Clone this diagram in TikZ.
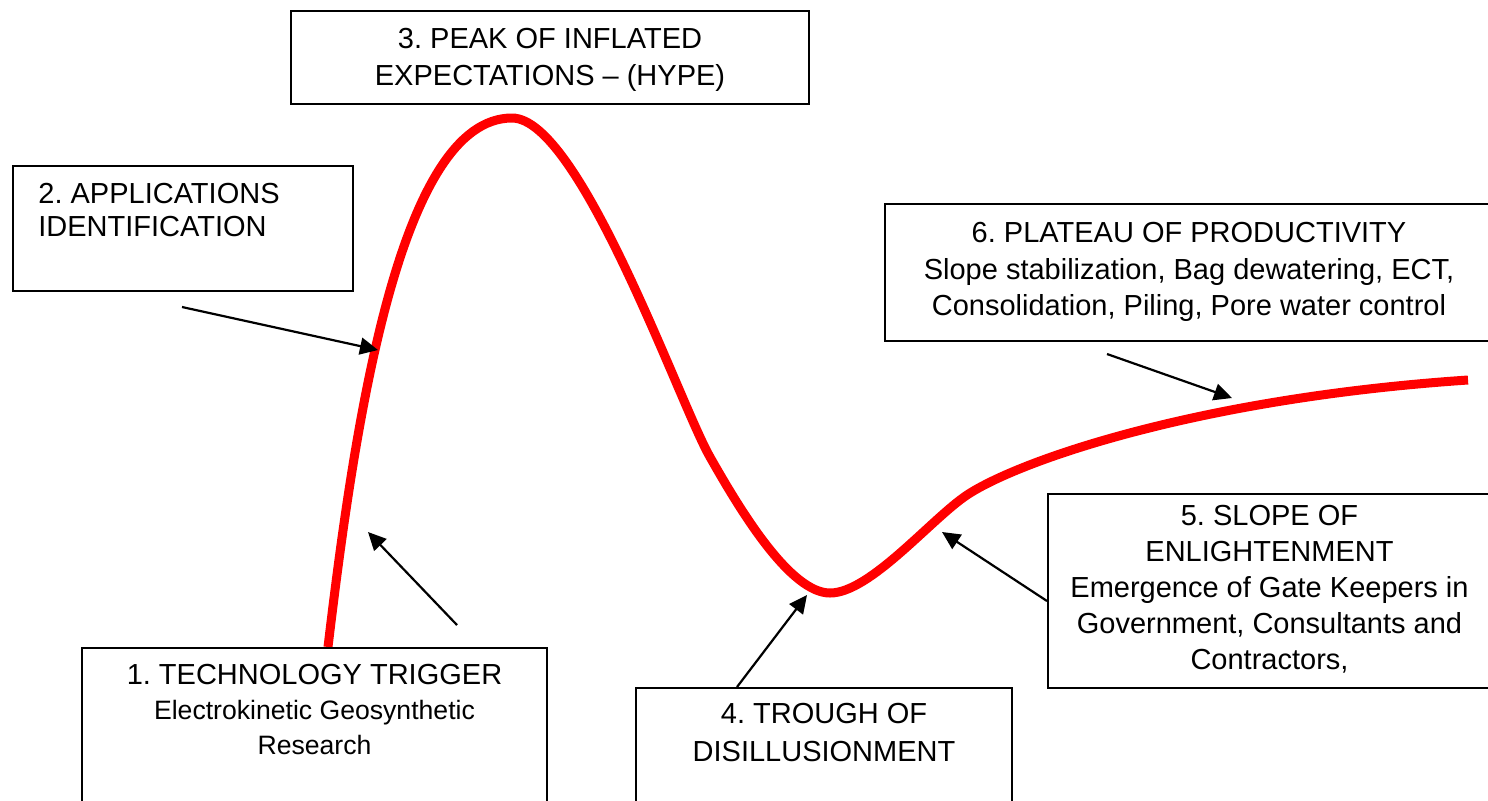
\documentclass[tikz,border=0pt]{standalone}
\usepackage{fontspec}
\setmainfont{Liberation Sans}
\usepackage{tikz}
\usetikzlibrary{arrows.meta,calc}
\frenchspacing

\begin{document}
\begin{tikzpicture}[x=0.5pt,y=0.5pt,yscale=-1,
    stagebox/.style={draw, line width=1pt, anchor=north west, inner sep=0pt},
    stagetext/.style={anchor=north, inner sep=0pt, align=center, font=\fontsize{14.5}{18.3}\selectfont},
    hypecurve/.style={draw=red, line width=4.5pt},
    pointer/.style={line width=1.1pt, -{Triangle[length=9pt,width=8.5pt]}}]
    \useasboundingbox (0,0) rectangle (1488,800); %set diagram to 1488 x 800

    %Curve Lines [id:hype curve]
    \draw [hypecurve] (328,647) .. controls (355,420) and (400,118) .. (512,118)
        .. controls (580,118) and (680,405) .. (710,457)
        .. controls (740,510) and (790,593) .. (830,593)
        .. controls (870,593) and (931,519) .. (967,495)
        .. controls (1020,460) and (1200,398) .. (1468,380) ;

    %Shape: Rectangle [id:stage boxes]
    \node [stagebox, minimum width=232.5pt, minimum height=86.5pt] (trigger) at (81,647) {};
    \node [stagebox, minimum width=170pt, minimum height=62.5pt] (apps) at (12,165) {};
    \node [stagebox, minimum width=259pt, minimum height=46.5pt] (hype) at (290,10) {};
    \node [stagebox, minimum width=188pt, minimum height=66.5pt] (trough) at (635,687) {};
    \node [stagebox, minimum width=221.5pt, minimum height=97pt] (slope) at (1047,493) {};
    \node [stagebox, minimum width=304pt, minimum height=68.5pt] (plateau) at (884,203) {};

    % Text Node
    \node [stagetext, font=\fontsize{14.5}{17.5}\selectfont] (triggertext) at ($(trigger.north)+(0,17)$)
        {1. TECHNOLOGY TRIGGER\\ \fontsize{13.3}{17.5}\selectfont Electrokinetic Geosynthetic\\ \fontsize{13.3}{17.5}\selectfont Research};
    % Text Node
    \node [stagetext, anchor=north west, align=left, font=\fontsize{14.5}{16.5}\selectfont] (appstext) at ($(apps.north west)+(26,18)$)
        {2. APPLICATIONS\\IDENTIFICATION};
    % Text Node
    \node [stagetext, font=\fontsize{14.5}{18.5}\selectfont] (hypetext) at ($(hype.north)+(0,18)$)
        {3. PEAK OF INFLATED\\EXPECTATIONS – (HYPE)};
    % Text Node
    \node [stagetext, font=\fontsize{14.5}{19}\selectfont] (troughtext) at ($(trough.north)+(0,16)$)
        {4. TROUGH OF\\DISILLUSIONMENT};
    % Text Node
    \node [stagetext, font=\fontsize{14.5}{18}\selectfont] (slopetext) at ($(slope.north)+(0,12)$)
        {5. SLOPE OF\\ENLIGHTENMENT\\Emergence of Gate Keepers in\\Government, Consultants and\\Contractors,};
    % Text Node
    \node [stagetext] (plateautext) at ($(plateau.north)+(0,19)$)
        {6. PLATEAU OF PRODUCTIVITY\\Slope stabilization, Bag dewatering, ECT,\\Consolidation, Piling, Pore water control};

    %Straight Lines [id:pointers]
    \coordinate (triggertip) at (368,532);
    \coordinate (appstip) at (378,350);
    \coordinate (troughtip) at (807,595);
    \coordinate (slopetip) at (942,532);
    \coordinate (plateautip) at (1232,398);
    \draw [pointer] ($(trigger.north west)+(376,-22)$) -- (triggertip);
    \draw [pointer] ($(apps.south west)+(170,15)$) -- (appstip);
    \draw [pointer] ($(trough.north west)+(102,0)$) -- (troughtip);
    \draw [pointer] ($(slope.north west)+(0,108)$) -- (slopetip);
    \draw [pointer] ($(plateau.south west)+(223,12)$) -- (plateautip);
\end{tikzpicture}
\end{document}
